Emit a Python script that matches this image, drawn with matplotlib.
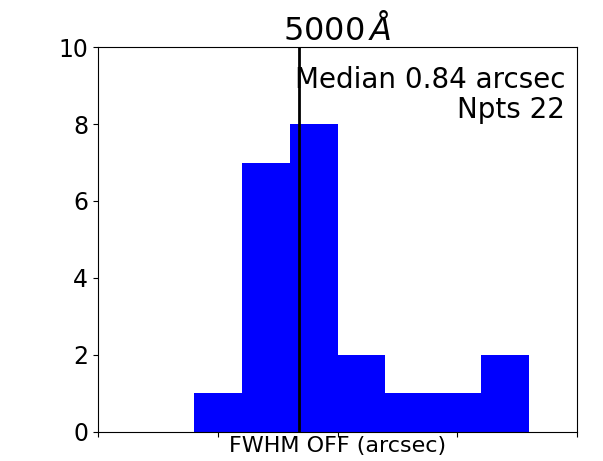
import numpy as np
import matplotlib
matplotlib.use('Agg')
import matplotlib.pyplot as plt

# histogram of FWHM values (bin edges in arcsec, counts per bin)
bin_edges = [0.62, 0.72, 0.82, 0.92, 1.02, 1.12, 1.22, 1.32]
counts = [1, 7, 8, 2, 1, 1, 2]
median_fwhm = 0.84
npts = 22
x_range = (0.42, 1.42)

edges = np.array(bin_edges)
centers = 0.5 * (edges[:-1] + edges[1:])

fig = plt.figure(figsize=(6.03, 4.61), dpi=100)
ax = fig.add_axes([0.1625, 0.063, 0.7945, 0.835])

ax.hist(centers, bins=edges, weights=counts, color='blue')
ax.axvline(median_fwhm, color='black', lw=2)

ax.set_xlim(*x_range)
ax.set_ylim(0, 10)
ax.set_xticks(np.linspace(x_range[0], x_range[1], 5))
ax.set_xticklabels([])
ax.tick_params(axis='y', labelsize=17)
ax.set_xlabel('FWHM OFF (arcsec)', fontsize=16, labelpad=-4)
ax.set_title(r'$5000\,\AA$', fontsize=23, pad=3)

ax.text(0.975, 0.95, 'Median %.2f arcsec\nNpts %d' % (median_fwhm, npts),
        transform=ax.transAxes, ha='right', va='top', fontsize=20,
        linespacing=1.1)

plt.savefig('out.png', dpi=100)
